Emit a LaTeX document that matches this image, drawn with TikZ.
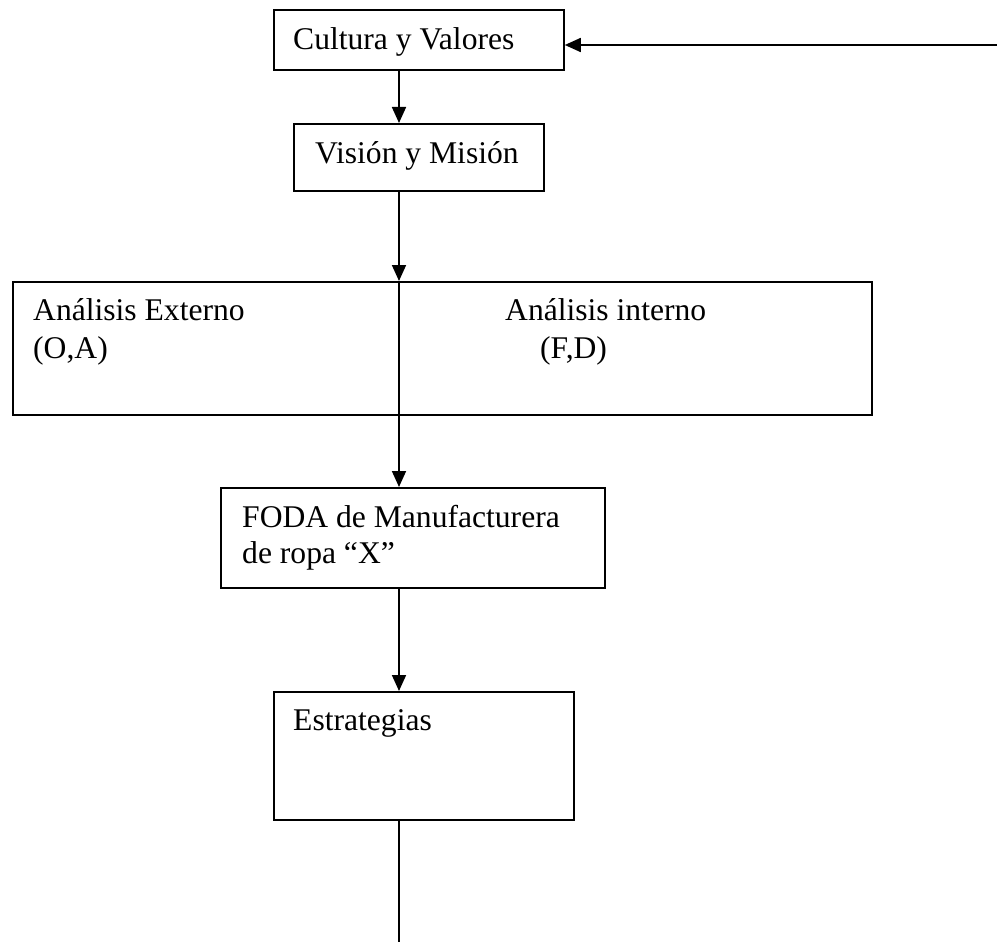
\documentclass[tikz,border=0pt]{standalone}
\usepackage{fontspec}
\setmainfont{Liberation Serif}
\usetikzlibrary{arrows.meta}
\begin{document}
\begin{tikzpicture}[x=1pt,y=-1pt,
  font=\fontsize{31.6}{38}\selectfont,
  box/.style={draw,line width=1.8pt,rectangle,inner sep=0pt,anchor=north west},
  lbl/.style={anchor=base west,inner sep=0pt,align=left},
  link/.style={line width=1.8pt},
  arr/.style={link,-{Triangle[length=16pt,width=14pt]}}]
  \useasboundingbox (0,0) rectangle (997,942);

  % vertical spine of the flow
  \coordinate (spine) at (399,0);

  % boxes
  \node[box,minimum width=290pt,minimum height=60pt]  (b1) at (273,9)   {};
  \node[box,minimum width=250pt,minimum height=67pt]  (b2) at (293,123) {};
  \node[box,minimum width=859pt,minimum height=133pt] (b3) at (12,281)  {};
  \node[box,minimum width=384pt,minimum height=100pt] (b4) at (220,487) {};
  \node[box,minimum width=300pt,minimum height=128pt] (b5) at (273,691) {};

  % box texts
  \node[lbl] (t1) at (293,50)  {Cultura y Valores};
  \node[lbl] (t2) at (315,163) {Visión y Misión};
  \node[lbl] (t3a) at (33,320)  {Análisis Externo};
  \node[lbl] (t3b) at (33,358)  {(O,A)};
  \node[lbl] (t3c) at (505,320) {Análisis interno};
  \node[lbl] (t3d) at (540,358) {(F,D)};
  \node[lbl] (t4a) at (242,527) {FODA de Manufacturera};
  \node[lbl] (t4b) at (242,563) {de ropa “X”};
  \node[lbl] (t5) at (293,730) {Estrategias};

  % feedback input from the right
  \coordinate (src) at (997,45);
  \draw[arr] (src) -- (b1.east |- src);

  % connectors
  \draw[arr] (b1.south -| spine) -- (b2.north -| spine);
  \draw[arr] (b2.south -| spine) -- (b3.north -| spine);
  \draw[arr] (b3.north -| spine) -- (b4.north -| spine);
  \draw[arr] (b4.south -| spine) -- (b5.north -| spine);
  \coordinate (tail) at (399,942);
  \draw[link] (b5.south -| spine) -- (tail);
\end{tikzpicture}
\end{document}
